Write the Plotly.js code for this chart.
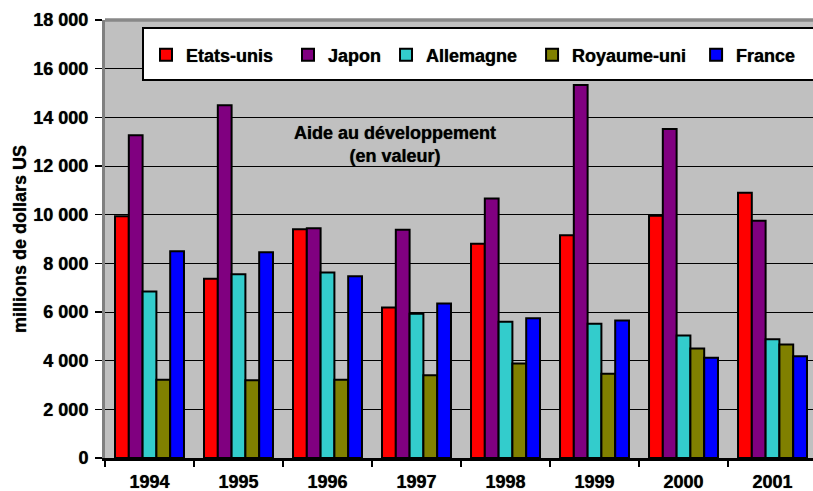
<!DOCTYPE html>
<html>
<head>
<meta charset="utf-8">
<script src="https://cdn.plot.ly/plotly-3.0.1.min.js"></script>
<style>html,body{margin:0;padding:0;background:#fff;}#chart{width:813px;height:491px;}</style>
</head>
<body>
<div id="chart"></div>
<script>
var years = ["1994","1995","1996","1997","1998","1999","2000","2001"];
var seriesNames = ["Etats-unis","Japon","Allemagne","Royaume-uni","France"];
var etatsUnis   = [9930, 7370, 9400, 6190, 8800, 9150, 9960, 10900];
var japon       = [13260, 14500, 9440, 9380, 10660, 15330, 13520, 9750];
var allemagne   = [6840, 7550, 7620, 5930, 5600, 5520, 5030, 4880];
var royaumeUni  = [3220, 3200, 3220, 3400, 3880, 3460, 4500, 4660];
var france      = [8500, 8460, 7470, 6350, 5740, 5650, 4120, 4180];
var seriesValues = [etatsUnis, japon, allemagne, royaumeUni, france];
var colors = ["#FF0000","#800080","#33CCCC","#808000","#0000FF"];
// extra spacing after each legend entry, in non-breaking spaces
var legendPad = [2, 0, 2, 1, 0];

var FONT = "Liberation Sans, Arial, sans-serif";
var FS = 18;
var SHADOW = "0px 0px 0.8px rgba(0,0,0,0.8)";
function fnt(){ return {family: FONT, size: FS, color: "#000", weight: "bold", shadow: SHADOW}; }

var traces = seriesNames.map(function(n, i){
  return {
    type: "bar", name: n + "\u00A0".repeat(legendPad[i]), x: years, y: seriesValues[i],
    marker: {color: colors[i], line: {color: "#000", width: 2}}
  };
});

var W = 813, H = 491, ml = 105, mt = 20, mb = 33;
var pw = W - ml, ph = H - mt - mb;
function px(x){ return (x - ml) / pw; }
function py(y){ return (H - mb - y) / ph; }

var layout = {
  width: W, height: H,
  margin: {l: ml, r: 0, t: mt, b: mb, pad: 0},
  paper_bgcolor: "#ffffff",
  plot_bgcolor: "#C0C0C0",
  separators: ", ",
  font: {family: FONT, size: FS, color: "#000"},
  barmode: "group",
  bargap: 0.225,
  bargroupgap: 0,
  showlegend: true,
  legend: {
    orientation: "h", x: px(146), xanchor: "left", y: py(55), yanchor: "middle",
    bgcolor: "rgba(0,0,0,0)", borderwidth: 0,
    font: fnt(),
    traceorder: "normal"
  },
  xaxis: {
    type: "category", range: [-0.5, 7.455],
    showgrid: false, zeroline: false,
    showline: true, linecolor: "#000", linewidth: 2.5,
    ticks: "outside", tickson: "boundaries", ticklen: 6, tickwidth: 1.5, tickcolor: "#000",
    ticklabelstandoff: 6,
    tickfont: fnt()
  },
  yaxis: {
    range: [0, 18000], dtick: 2000, tick0: 0,
    tickformat: ",d", separatethousands: true, exponentformat: "none",
    showgrid: true, gridcolor: "#000", gridwidth: 1,
    zeroline: false,
    showline: true, linecolor: "#808080", linewidth: 3,
    ticks: "outside", ticklen: 7, tickwidth: 1.5, tickcolor: "#000",
    ticklabelstandoff: 3,
    tickfont: fnt(),
    title: {text: "millions de dollars US", standoff: 3, font: fnt()}
  },
  shapes: [
    {type: "line", xref: "paper", yref: "paper", x0: 0, x1: 1.02, y0: 1, y1: 1,
     line: {color: "#888888", width: 3.5}, layer: "above"},
    {type: "rect", xref: "paper", yref: "paper", x0: px(143), x1: 1.05, y0: py(80), y1: py(28),
     fillcolor: "#ffffff", line: {color: "#000", width: 2}, layer: "above"}
  ],
  annotations: [
    {xref: "paper", yref: "paper", x: px(395), y: py(144), xanchor: "center", yanchor: "middle",
     showarrow: false, align: "center",
     text: "Aide au développement<br>(en valeur)",
     font: fnt()}
  ]
};

Plotly.newPlot("chart", traces, layout, {displayModeBar: false, staticPlot: true});
</script>
</body>
</html>
